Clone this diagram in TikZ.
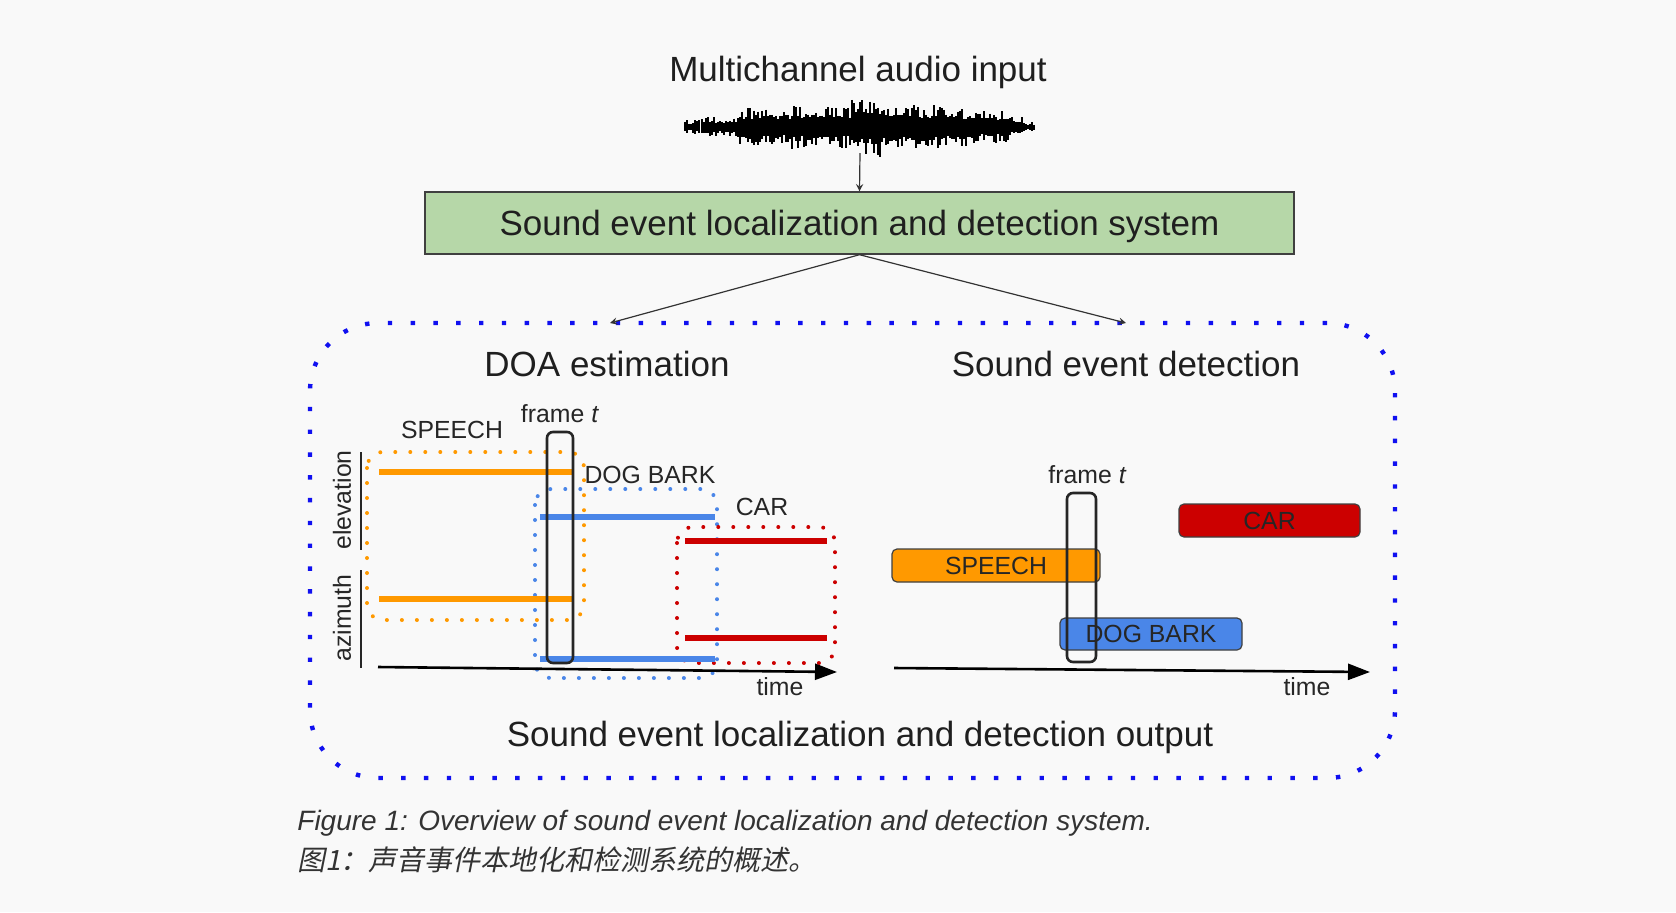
\documentclass[tikz,border=0pt]{standalone}
\usepackage{fontspec}
\setmainfont{Liberation Sans}
\newfontfamily\cjk[FakeSlant=0.2]{Noto Sans CJK SC}
\usetikzlibrary{positioning,arrows.meta}

\definecolor{bggray}{HTML}{F9F9F9}
\definecolor{sysgreen}{HTML}{B6D7A8}
\definecolor{speechorange}{HTML}{FF9900}
\definecolor{dogblue}{HTML}{4A86E8}
\definecolor{carred}{HTML}{CC0000}
\definecolor{outblue}{HTML}{1010F0}
\definecolor{capgray}{HTML}{333333}

\newcommand{\headsize}{\fontsize{17.5pt}{21pt}\selectfont}
\newcommand{\tagsize}{\fontsize{12.4pt}{15pt}\selectfont}
\newcommand{\capsize}{\fontsize{14pt}{17pt}\selectfont}

\begin{document}
\begin{tikzpicture}[x=0.5pt, y=-0.5pt, >=stealth,
  headtext/.style={font=\headsize, text=black!88, inner sep=0pt},
  tagtext/.style={font=\tagsize, text=black!85, inner sep=0pt},
  evline/.style={line width=2.8pt},
  evbox/.style={draw=black!75, line width=0.6pt, rounded corners=2.5pt, inner sep=0pt,
    font=\tagsize, text=black!85},
  framebox/.style={draw=black!85, line width=1.3pt, rounded corners=3pt, inner sep=0pt},
  dotbox/.style={line width=2pt, line cap=round, dash pattern=on 0pt off 7.5pt, rounded corners=8pt},
  timeaxis/.style={line width=1.3pt, -{Triangle[length=11pt,width=8pt]}},
  feed/.style={draw=black!80, line width=0.6pt, ->}]

\fill[bggray] (0,0) rectangle (1676,912);
\useasboundingbox (0,0) rectangle (1676,912);

\node[headtext] (mc-title) at (858,72) {Multichannel audio input};

\pgfmathsetseed{7}
\foreach \xa/\xn/\xb/\amp in {685/687/700/7, 702/704/736/10, 738/740/754/20, 756/758/790/19,
  792/794/850/22, 852/854/882/30, 884/886/914/22, 916/918/942/22, 944/946/974/20,
  976/978/1008/16, 1010/1012/1022/10, 1024/1026/1035/5}
  \foreach \x in {\xa,\xn,...,\xb} {
    \pgfmathsetmacro\up{\amp*(rnd>0.6 ? 0.75+0.25*rnd : 0.4+0.25*rnd)}
    \pgfmathsetmacro\dn{\amp*(rnd>0.6 ? 0.75+0.25*rnd : 0.4+0.25*rnd)}
    \draw[line width=1.2pt] (\x,127-\up) -- (\x,127+\dn);
  }
\coordinate (wave-bottom) at (860,153);

\node[headtext, text depth=0pt, draw=black!75, line width=0.7pt, fill=sysgreen,
  minimum width=434.5pt, minimum height=31pt] (sys) at (859.5,223)
  {Sound event localization and detection system};
\draw[feed] (wave-bottom) -- (sys.north);

\node[draw=outblue, line width=2.2pt, dash pattern=on 2.2pt off 9.2pt, rounded corners=34pt,
  minimum width=542.5pt, minimum height=227.5pt] (outbox) at (852.5,550.5) {};
\coordinate (doa-in) at (610,323);
\coordinate (sed-in) at (1126,323);
\draw[feed] (sys.south) -- (doa-in);
\draw[feed] (sys.south) -- (sed-in);

\node[headtext] (doa-title) at (607,364) {DOA estimation};
\node[headtext] (sed-title) at (1126,364) {Sound event detection};
\node[headtext] (out-title) at (860,737) {Sound event localization and detection output};

% DOA panel
\foreach \c/\xa/\ya/\xb/\yb in {speechorange/367/452/584/620, dogblue/535/489/717/678,
  carred/677/527/835/663}
  \draw[dotbox, \c] (\xa,\ya) rectangle (\xb,\yb);

\foreach \c/\xa/\xb/\ya/\yb in {speechorange/379/573/472/599, dogblue/540/715/517/659,
  carred/685/827/541/638} {
  \draw[evline, \c] (\xa,\ya) -- (\xb,\ya);
  \draw[evline, \c] (\xa,\yb) -- (\xb,\yb);
}

\node[tagtext] (doa-speech) at (452,430) {SPEECH};
\node[tagtext] (doa-dog) at (650,475) {DOG BARK};
\node[tagtext] (doa-car) at (762,507) {CAR};

\node[framebox, minimum width=13pt, minimum height=115.5pt] (doa-frame) at (560,547.5) {};
\node[tagtext, above=4pt of doa-frame] (doa-frame-label) {frame \textit{t}};

\draw[line width=1pt, black!85] (361,452) -- (361,550);
\draw[line width=1pt, black!85] (361,570) -- (361,668);
\node[tagtext, rotate=90] (elev) at (342,500) {elevation};
\node[tagtext, rotate=90] (azim) at (342,618) {azimuth};

\coordinate (doa-origin) at (378,667);
\coordinate (doa-end) at (837,672);
\draw[timeaxis] (doa-origin) -- (doa-end);
\node[tagtext] (doa-time) at (780,687) {time};

% SED panel
\node[evbox, fill=carred, minimum width=90.5pt, minimum height=16.5pt] (sed-car) at (1269.5,520.5) {CAR};
\node[evbox, fill=speechorange, minimum width=104pt, minimum height=16.5pt] (sed-speech) at (996,565.5) {SPEECH};
\node[evbox, fill=dogblue, minimum width=91pt, minimum height=16pt] (sed-dog) at (1151,634) {DOG BARK};

\node[framebox, minimum width=14.5pt, minimum height=84.5pt] (sed-frame) at (1081.5,577.5) {};
\node[tagtext, above=4pt of sed-frame, xshift=3pt] (sed-frame-label) {frame \textit{t}};

\coordinate (sed-origin) at (894,668);
\coordinate (sed-end) at (1370,672);
\draw[timeaxis] (sed-origin) -- (sed-end);
\node[tagtext] (sed-time) at (1307,687) {time};

\node[anchor=west, font=\capsize\itshape, text=capgray, inner sep=0pt] (cap-en) at (297,823)
  {Figure 1: Overview of sound event localization and detection system.};
\node[anchor=west, font=\capsize\cjk, text=capgray, inner sep=0pt] (cap-zh) at (297,860)
  {图1：声音事件本地化和检测系统的概述。};

\end{tikzpicture}
\end{document}
